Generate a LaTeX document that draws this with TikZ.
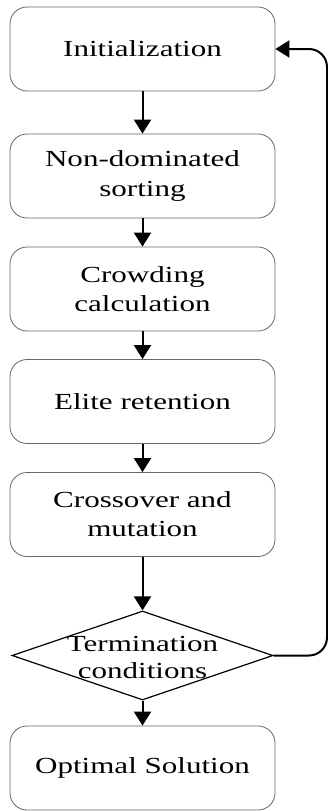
\documentclass[tikz,border=0pt]{standalone}
\usepackage{fontspec}
\setmainfont{Liberation Serif}[FakeStretch=1.35]
\usetikzlibrary{arrows.meta,shapes.geometric}

\tikzset{
  stage/.style={draw=black!60, line width=0.8pt, rounded corners=17pt,
    minimum width=265pt, minimum height=84pt, align=center,
    font=\fontsize{23}{29}\selectfont, inner sep=0pt},
  decision/.style={diamond, draw=black, line width=1.2pt,
    minimum width=261pt, minimum height=89pt, inner sep=0pt},
  words/.style={align=center, font=\fontsize{23}{27}\selectfont, inner sep=0pt},
  flow/.style={draw=black, line width=2pt,
    -{Triangle[width=17pt,length=14pt]}}
}

\begin{document}
\begin{tikzpicture}[x=1pt, y=-1pt]
  \useasboundingbox[fill=white] (0,0) rectangle (327,811);

  % main chain of stages
  \node[stage] (init)  at (142.5, 49)    {Initialization};
  \node[stage] (sort)  at (142.5, 176)   {Non-dominated\\sorting};
  \node[stage] (crowd) at (142.5, 289)   {Crowding\\calculation};
  \node[stage] (elite) at (142.5, 401.5) {Elite retention};
  \node[stage] (cross) at (142.5, 514.5) {Crossover and\\mutation};
  \node[decision] (term) at (142.5, 655.5) {};
  \node[words] (termtext) at (142.5, 657) {Termination\\conditions};
  \node[stage] (opt)   at (142.5, 768)   {Optimal Solution};

  % forward arrows
  \draw[flow] (init)  -- (sort);
  \draw[flow] (sort)  -- (crowd);
  \draw[flow] (crowd) -- (elite);
  \draw[flow] (elite) -- (cross);
  \draw[flow] (cross) -- (term);
  \draw[flow] (term)  -- (opt);

  % feedback loop back to the start, running along the right edge
  \coordinate (back) at (327, 400);
  \draw[flow, rounded corners=18pt] (term.east) -| (back) |- (init.east);
\end{tikzpicture}
\end{document}
